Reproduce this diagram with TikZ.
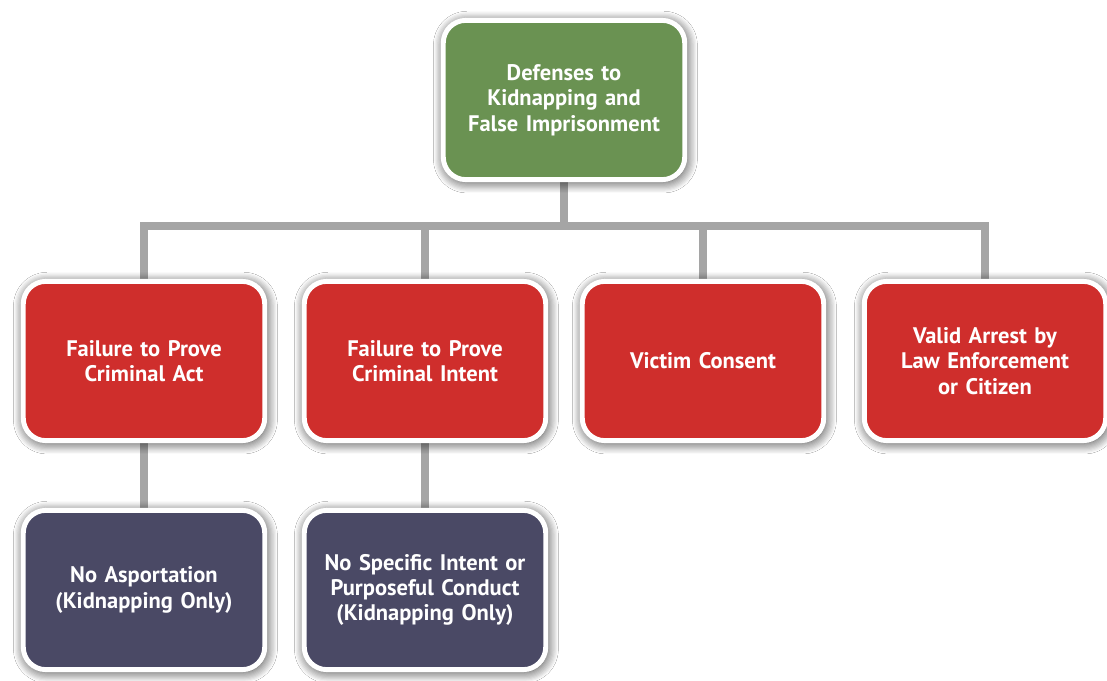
\documentclass[tikz,border=0pt]{standalone}
\usepackage{fontspec}
\setmainfont{PT Sans}
\usetikzlibrary{shadows.blur,backgrounds}
\definecolor{rootgreen}{RGB}{106,146,82}
\definecolor{defred}{RGB}{207,46,44}
\definecolor{subslate}{RGB}{74,73,101}
\definecolor{linkgray}{RGB}{165,165,165}
\tikzset{
  box/.style={draw=white, line width=3.5pt, rounded corners=16pt,
    minimum width=6.0cm, minimum height=3.98cm, text width=5.8cm,
    align=center, text=white, font=\bfseries\fontsize{16}{18}\selectfont,
    blur shadow={shadow blur steps=10, shadow xshift=1pt, shadow yshift=-1.5pt,
      shadow blur radius=8pt, shadow opacity=85}},
  rootbox/.style={box, fill=rootgreen},
  defbox/.style={box, fill=defred},
  subbox/.style={box, fill=subslate},
  link/.style={linkgray, line width=5.5pt},
}
\begin{document}
\begin{tikzpicture}[x=0.025cm, y=-0.025cm]
  \useasboundingbox (0,0) rectangle (1107,681);

  % Root
  \node[rootbox] (root) at (564,100) {Defenses to\\Kidnapping and\\False Imprisonment};

  % Defenses
  \node[defbox] (act)     at (144,361) {Failure to Prove\\Criminal Act};
  \node[defbox] (intent)  at (425,361) {Failure to Prove\\Criminal Intent};
  \node[defbox] (consent) at (703,361) {Victim Consent};
  \node[defbox] (arrest)  at (985,361) {Valid Arrest by\\Law Enforcement\\or Citizen};

  % Kidnapping only
  \node[subbox] (asport)  at (144,590) {No Asportation\\(Kidnapping Only)};
  \node[subbox] (purpose) at (425,590) {No Specific Intent or\\Purposeful Conduct\\(Kidnapping Only)};

  % Connectors
  \begin{scope}[on background layer]
    \fill[white] (0,0) rectangle (1107,681);
    \coordinate (joint) at (564,226);
    \draw[link] (root.south) -- (joint);
    \foreach \n in {act,intent,consent,arrest}
      \draw[link] (joint) -| (\n.north);
    \draw[link] (act.south) -- (asport.north);
    \draw[link] (intent.south) -- (purpose.north);
  \end{scope}
\end{tikzpicture}
\end{document}
